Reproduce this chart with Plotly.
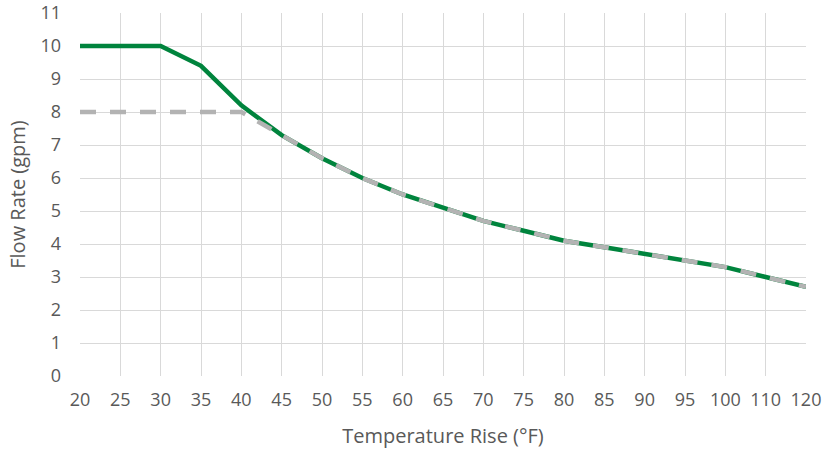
import plotly.graph_objects as go

temps = ["20", "25", "30", "35", "40", "45", "50", "55", "60", "65", "70",
         "75", "80", "85", "90", "95", "100", "110", "120"]
flow_green = [10, 10, 10, 9.4, 8.2, 7.3, 6.6, 6.0, 5.5, 5.1, 4.7,
              4.4, 4.1, 3.9, 3.7, 3.5, 3.3, 3.0, 2.7]
flow_gray = [8, 8, 8, 8, 8, 7.3, 6.6, 6.0, 5.5, 5.1, 4.7,
             4.4, 4.1, 3.9, 3.7, 3.5, 3.3, 3.0, 2.7]

fig = go.Figure()
fig.add_trace(go.Scatter(x=temps, y=flow_green, mode="lines",
                         line=dict(color="#00843D", width=4.5), showlegend=False))
fig.add_trace(go.Scatter(x=temps, y=flow_gray, mode="lines",
                         line=dict(color="#B3B3B3", width=4.5, dash="16px,14px"), showlegend=False))

font_family = "Open Sans, Liberation Sans, sans-serif"
fig.update_layout(
    width=822, height=451,
    margin=dict(l=80, r=16, t=13, b=75),
    paper_bgcolor="white", plot_bgcolor="white",
    font=dict(family=font_family, color="#595959", size=18),
    xaxis=dict(type="category", range=[0, 18], showgrid=True, gridcolor="#D9D9D9",
               gridwidth=1, zeroline=False, showline=False, ticks="", automargin=False,
               ticklabelstandoff=11,
               tickfont=dict(size=18, color="#595959"),
               title=dict(text="Temperature Rise (°F)", font=dict(size=20, color="#595959"), standoff=18)),
    yaxis=dict(range=[0, 11], dtick=1, showgrid=True, gridcolor="#D9D9D9", gridwidth=1,
               zeroline=False, showline=False, ticks="", ticklabelstandoff=18, automargin=False,
               tickfont=dict(size=18, color="#595959"),
               title=dict(text="Flow Rate (gpm)", font=dict(size=20, color="#595959"), standoff=9)),
)
fig.write_html("out.html", config={"displayModeBar": False},
               post_script="document.body.style.margin='0';")
